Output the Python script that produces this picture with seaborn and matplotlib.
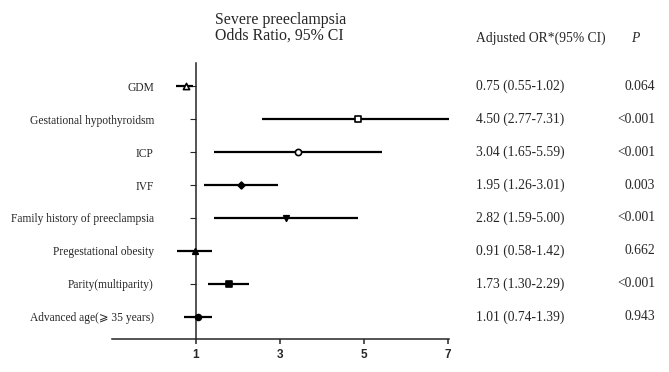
import numpy as np
import pandas as pd
import matplotlib
matplotlib.use("Agg")
import matplotlib.pyplot as plt
import matplotlib.transforms as mtransforms
import seaborn as sns

# Data
factors = ["GDM", "Gestational hypothyroidsm", "ICP", "IVF",
           "Family history of preeclampsia", "Pregestational obesity",
           "Parity(multiparity)", "Advanced age(\u2a7e 35 years)"]
# positions of the plotted marks (as drawn in the figure)
or_plot = [0.76, 4.86, 3.43, 2.07, 3.14, 0.98, 1.79, 1.05]
lo_plot = [0.52, 2.57, 1.43, 1.19, 1.42, 0.55, 1.29, 0.71]
hi_plot = [0.93, 7.02, 5.43, 2.95, 4.86, 1.38, 2.26, 1.38]
or_text = ["0.75 (0.55-1.02)", "4.50 (2.77-7.31)", "3.04 (1.65-5.59)",
           "1.95 (1.26-3.01)", "2.82 (1.59-5.00)", "0.91 (0.58-1.42)",
           "1.73 (1.30-2.29)", "1.01 (0.74-1.39)"]
p_text = ["0.064", "<0.001", "<0.001", "0.003", "<0.001", "0.662",
          "<0.001", "0.943"]
x_ticks = [1, 3, 5, 7]

markers = ["^", "s", "o", "D", "v", "^", "s", "o"]
filled = [False, False, False, True, True, True, True, True]
msizes = [20, 20, 20, 12, 16, 16, 18, 18]

df = pd.DataFrame({"factor": factors, "or": or_plot, "lo": lo_plot,
                   "hi": hi_plot, "y": np.arange(len(factors))})

sns.set_style("ticks")
serif = ["Liberation Serif", "DejaVu Sans", "DejaVu Serif"]
plt.rcParams["font.family"] = serif

fig = plt.figure(figsize=(6.69, 3.72), dpi=100)
ax = fig.add_axes([112 / 669, 33 / 372, 337 / 669, 276 / 372])

ax.hlines(df["y"], df["lo"], df["hi"], color="black", linewidth=1.6, zorder=2)
for i, row in df.iterrows():
    sns.scatterplot(x=[row["or"]], y=[row["y"]], marker=markers[i], s=msizes[i],
                    color="black" if filled[i] else "white",
                    edgecolor="black", linewidth=1.2, ax=ax, zorder=3,
                    legend=False)

ax.set_xlim(-1.0, 7.02)
ax.set_ylim(len(factors) - 1 + 0.67, -0.7)
ax.spines["left"].set_position(("data", 1))
ax.spines["top"].set_visible(False)
ax.spines["right"].set_visible(False)
for s in ["left", "bottom"]:
    ax.spines[s].set_linewidth(1.1)

ax.set_yticks(df["y"])
ax.set_yticklabels(factors, fontsize=8.3)
ax.tick_params(axis="y", length=4.3, width=0.8, pad=26)
ax.set_xticks(x_ticks)
ax.set_xticklabels([str(t) for t in x_ticks], fontsize=8.5, fontweight="bold",
                   family="Liberation Sans")
ax.tick_params(axis="x", length=3.5, width=1.1, pad=4)
ax.set_xlabel("")
ax.set_ylabel("")

# title
fig.text(215 / 669, 1 - 20 / 372, "Severe preeclampsia", fontsize=11.4,
         va="center", ha="left")
fig.text(215 / 669, 1 - 36 / 372, "Odds Ratio, 95% CI", fontsize=11.4,
         va="center", ha="left")

# right-hand table
fig.text(476 / 669, 1 - 38 / 372, "Adjusted OR*(95% CI)", fontsize=9.8,
         va="center", ha="left")
fig.text(635 / 669, 1 - 38 / 372, "P", fontsize=9.8, style="italic",
         va="center", ha="center")
trans = mtransforms.blended_transform_factory(fig.transFigure, ax.transData)
for i in range(len(factors)):
    ax.text(476 / 669, df["y"][i], or_text[i], transform=trans, fontsize=9.8,
            va="center", ha="left", clip_on=False)
    ax.text(655 / 669, df["y"][i], p_text[i], transform=trans, fontsize=9.8,
            va="center", ha="right", clip_on=False)

fig.savefig("out.png", dpi=100)
